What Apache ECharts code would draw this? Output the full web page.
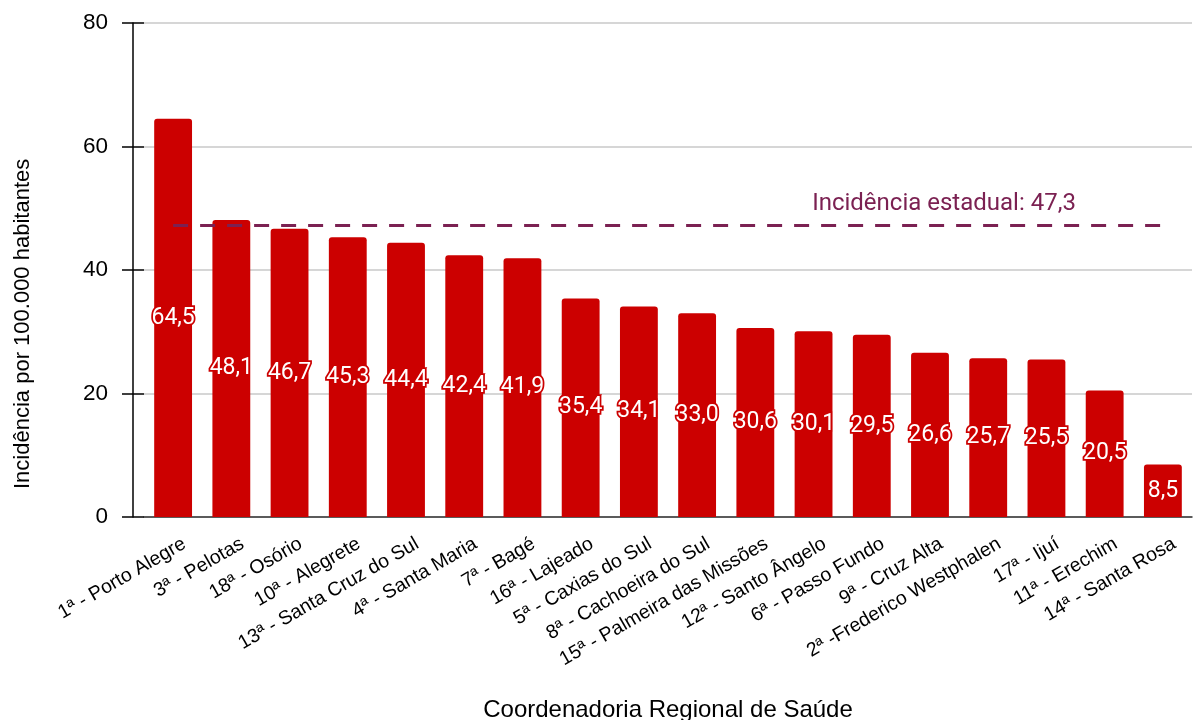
<!DOCTYPE html>
<html><head><meta charset="utf-8">
<script src="https://cdn.jsdelivr.net/npm/echarts@6/dist/echarts.min.js"></script>
<style>html,body{margin:0;padding:0;background:#fff}#c{width:1193px;height:720px}</style>
</head><body><div id="c"></div>
<script>
const categories = ["1ª - Porto Alegre","3ª - Pelotas","18ª - Osório","10ª - Alegrete","13ª - Santa Cruz do Sul","4ª - Santa Maria","7ª - Bagé","16ª - Lajeado","5ª - Caxias do Sul","8ª - Cachoeira do Sul","15ª - Palmeira das Missões","12ª - Santo Ângelo","6ª - Passo Fundo","9ª - Cruz Alta","2ª -Frederico Westphalen","17ª - Ijuí","11ª - Erechim","14ª - Santa Rosa"];
const values = [64.5,48.1,46.7,45.3,44.4,42.4,41.9,35.4,34.1,33.0,30.6,30.1,29.5,26.6,25.7,25.5,20.5,8.5];
const stateIncidence = 47.3;
const yTicks = [0,20,40,60,80];
const fmt = v => v.toFixed(1).replace('.', ',');

const chart = echarts.init(document.getElementById('c'));
chart.setOption({
  animation: false,
  grid: {left: 144, right: 1, top: 23, bottom: 203},
  xAxis: {
    type: 'category', data: categories,
    axisLine: {lineStyle: {color: '#333', width: 1.5}},
    axisTick: {show: false},
    axisLabel: {rotate: 30, interval: 0, fontFamily: 'Liberation Sans', fontSize: 19.5, color: '#000', margin: 32, padding: [0, -13, 0, 0]}
  },
  yAxis: [{
    type: 'value', min: yTicks[0], max: yTicks[yTicks.length-1], interval: 20, offset: 11,
    axisLine: {show: true, lineStyle: {color: '#000', width: 1.5}},
    axisTick: {show: true, length: 11, lineStyle: {color: '#000', width: 1.5}},
    axisLabel: {fontFamily: 'Liberation Sans', fontSize: 22.5, color: '#000', margin: 25},
    splitLine: {lineStyle: {color: '#c8c8c8', width: 1.5}}
  },{
    type: 'value', min: yTicks[0], max: yTicks[yTicks.length-1], interval: 20, offset: 11, position: 'left',
    axisLine: {show: false},
    axisTick: {show: true, inside: true, length: 11, lineStyle: {color: '#000', width: 1.5}},
    axisLabel: {show: false}, splitLine: {show: false}
  }],
  series: [{
    type: 'bar', data: values, barCategoryGap: '35%',
    itemStyle: {color: '#cc0000', borderRadius: [3,3,0,0]},
    label: {
      show: true, position: 'inside', formatter: p => fmt(p.value),
      fontFamily: 'Roboto', fontSize: 23, color: '#fff',
      textBorderColor: '#cc0000', textBorderWidth: 3.5
    },
    markLine: {
      symbol: 'none', silent: true,
      lineStyle: {color: '#7b2152', width: 3, type: [15, 12]},
      label: {
        show: true, position: 'insideEndTop', formatter: 'Incidência estadual: ' + fmt(stateIncidence),
        fontFamily: 'Roboto', fontSize: 24, color: '#7b2152', padding: [0, 82, 4, 0]
      },
      data: [[{coord: [0, stateIncidence]}, {coord: [categories.length-1, stateIncidence]}]]
    }
  }],
  graphic: [
    {type: 'text', x: 12, y: 489, rotation: Math.PI/2, style: {text: 'Incidência por 100.000 habitantes', fontFamily: 'Liberation Sans', fontSize: 22, fill: '#000', align: 'left', verticalAlign: 'top'}},
    {type: 'text', x: 668, y: 698, style: {text: 'Coordenadoria Regional de Saúde', fontFamily: 'Liberation Sans', fontSize: 24, fill: '#000', align: 'center', verticalAlign: 'top'}}
  ]
});
</script></body></html>
